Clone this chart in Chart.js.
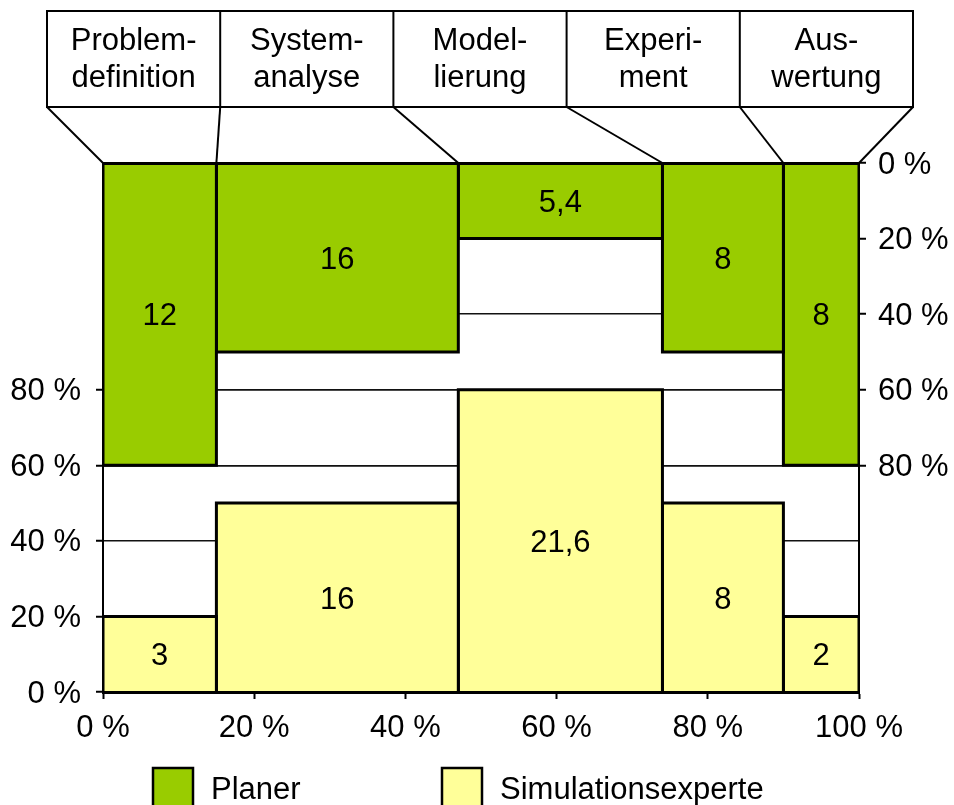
<!DOCTYPE html>
<html lang="de">
<head>
  <meta charset="UTF-8" />
  <title>Aufwand je Phase</title>
  <script src="https://cdn.jsdelivr.net/npm/chart.js@4.4.0/dist/chart.umd.min.js"></script>
  <style>
    html, body { margin: 0; padding: 0; background: #fff; }
    #wrap { width: 954px; height: 805px; }
  </style>
</head>
<body>
<div id="wrap"><canvas id="chart" width="954" height="805"></canvas></div>

<script>
  // ── data ────────────────────────────────────────────────────
  const phases      = ['Problem-\ndefinition', 'System-\nanalyse', 'Model-\nlierung', 'Experi-\nment', 'Aus-\nwertung'];
  const planer      = [12, 16, 5.4, 8, 8];
  const simExperte  = [3, 16, 21.6, 8, 2];
  const seriesNames = ['Planer', 'Simulationsexperte'];
  const xTicks      = [0, 20, 40, 60, 80, 100];
  const yTicks      = [0, 20, 40, 60, 80];

  const GREEN  = '#99cc00';
  const YELLOW = '#ffff99';
  const FONT   = 'Arial, "Liberation Sans", sans-serif';
  const FSIZE  = 31;

  // column width = share of total effort, height = share inside column
  const total  = planer.reduce((s, p, i) => s + p + simExperte[i], 0);
  const edges  = [0];
  planer.forEach((p, i) => edges.push(edges[i] + (p + simExperte[i]) / total * 100));
  const sharePl  = planer.map((p, i) => p / (p + simExperte[i]) * 100);
  const shareSim = simExperte.map((s, i) => s / (planer[i] + s) * 100);

  const rect = (i, h) => [
    {x: edges[i], y: 0}, {x: edges[i], y: h},
    {x: edges[i + 1], y: h}, {x: edges[i + 1], y: 0}
  ];
  const common = {
    borderColor: '#000', borderWidth: 3, borderJoinStyle: 'miter',
    pointRadius: 0, tension: 0, fill: 'origin'
  };
  const datasets = [];
  phases.forEach((ph, i) => {
    datasets.push({...common, label: seriesNames[1], data: rect(i, shareSim[i]),
                   backgroundColor: YELLOW, yAxisID: 'y'});
    datasets.push({...common, label: seriesNames[0], data: rect(i, sharePl[i]),
                   backgroundColor: GREEN, yAxisID: 'y2'});
  });

  const fmt = v => String(v).replace('.', ',');
  const pct = v => v + ' %';

  // ── header boxes + connectors + legend ──────────────────────
  const headerPlugin = {
    id: 'header',
    afterDraw(chart) {
      const {ctx, chartArea, scales: {x}} = chart;
      const left = 47, right = 913, top = 11, bottom = 107;
      const cw = (right - left) / phases.length;
      ctx.save();
      ctx.strokeStyle = '#000';
      ctx.lineWidth = 2;
      ctx.strokeRect(left, top, right - left, bottom - top);
      for (let k = 1; k < phases.length; k++) {
        ctx.beginPath();
        ctx.moveTo(left + k * cw, top);
        ctx.lineTo(left + k * cw, bottom);
        ctx.stroke();
      }
      for (let k = 0; k <= phases.length; k++) {
        ctx.beginPath();
        ctx.moveTo(left + k * cw, bottom);
        ctx.lineTo(x.getPixelForValue(edges[k]), chartArea.top);
        ctx.stroke();
      }
      ctx.fillStyle = '#000';
      ctx.font = FSIZE + 'px ' + FONT;
      ctx.textAlign = 'center';
      ctx.textBaseline = 'alphabetic';
      phases.forEach((ph, k) => {
        ph.split('\n').forEach((line, j) => {
          ctx.fillText(line, left + (k + 0.5) * cw, top + 39 + j * 37);
        });
      });

      // legend
      const items = [[153, GREEN, seriesNames[0]], [442, YELLOW, seriesNames[1]]];
      ctx.textAlign = 'left';
      ctx.textBaseline = 'alphabetic';
      items.forEach(([lx, col, txt]) => {
        ctx.fillStyle = col;
        ctx.fillRect(lx, 768, 40, 40);
        ctx.lineWidth = 2.5;
        ctx.strokeRect(lx, 768, 40, 40);
        ctx.fillStyle = '#000';
        ctx.fillText(txt, lx + 58, 799);
      });
      ctx.restore();
    }
  };

  // ── numbers inside the rectangles ───────────────────────────
  const valuePlugin = {
    id: 'values',
    afterDatasetsDraw(chart) {
      const {ctx, scales: {x, y, y2}} = chart;
      const half = FSIZE * 0.36;   // half cap height, centres the digits
      ctx.save();
      ctx.fillStyle = '#000';
      ctx.font = FSIZE + 'px ' + FONT;
      ctx.textAlign = 'center';
      ctx.textBaseline = 'alphabetic';
      phases.forEach((ph, i) => {
        const cx = x.getPixelForValue((edges[i] + edges[i + 1]) / 2);
        ctx.fillText(fmt(planer[i]), cx, y2.getPixelForValue(sharePl[i] / 2) + half);
        ctx.fillText(fmt(simExperte[i]), cx, y.getPixelForValue(shareSim[i] / 2) + half);
      });
      ctx.restore();
    }
  };

  Chart.defaults.font.family = FONT;
  Chart.defaults.font.size = FSIZE;
  Chart.defaults.color = '#000';

  const gridY = {color: '#111', lineWidth: 1.5, tickLength: 7, tickColor: '#000', tickWidth: 2};

  new Chart(document.getElementById('chart'), {
    type: 'line',
    data: {datasets},
    options: {
      responsive: false,
      animation: false,
      events: [],
      layout: {padding: {top: 163, left: 0, right: 0, bottom: 0}},
      plugins: {legend: {display: false}, tooltip: {enabled: false}},
      scales: {
        x: {
          type: 'linear', position: 'bottom', min: 0, max: 100,
          afterBuildTicks: s => { s.ticks = xTicks.map(v => ({value: v})); },
          afterFit: s => { s.height = 113; },
          ticks: {callback: pct, padding: 11, maxRotation: 0, autoSkip: false},
          grid: {drawOnChartArea: false, tickLength: 7, tickColor: '#000', tickWidth: 2},
          border: {color: '#000', width: 3, z: 1}
        },
        xTop: {
          type: 'linear', position: 'top', min: 0, max: 100,
          afterFit: s => { s.height = 0; },
          ticks: {display: false},
          grid: {display: false, drawTicks: false},
          border: {color: '#000', width: 3, z: 1}
        },
        y: {
          type: 'linear', position: 'left', min: 0, max: 140,
          afterBuildTicks: s => { s.ticks = yTicks.map(v => ({value: v})); },
          afterFit: s => { s.width = 103; },
          ticks: {callback: pct, padding: 15, labelOffset: 2},
          grid: gridY,
          border: {color: '#000', width: 2}
        },
        y2: {
          type: 'linear', position: 'right', min: 0, max: 140, reverse: true,
          afterBuildTicks: s => { s.ticks = yTicks.map(v => ({value: v})); },
          afterFit: s => { s.width = 95; },
          ticks: {callback: pct, padding: 12, labelOffset: 2},
          grid: gridY,
          border: {color: '#000', width: 2}
        }
      }
    },
    plugins: [valuePlugin, headerPlugin]
  });
</script>
</body>
</html>
